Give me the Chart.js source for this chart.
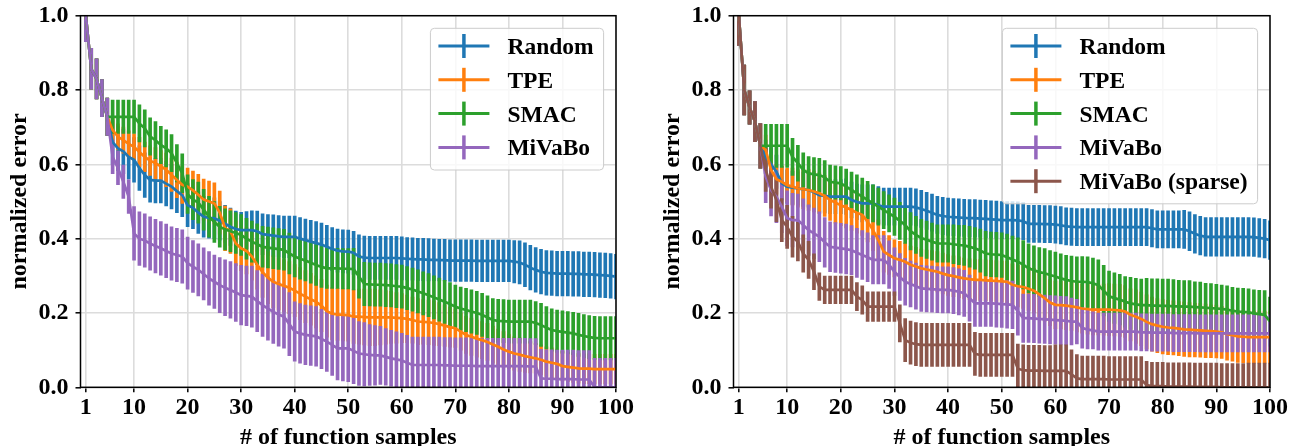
<!DOCTYPE html>
<html>
<head>
<meta charset="utf-8">
<script src="https://cdn.jsdelivr.net/npm/chart.js@4.4.0/dist/chart.umd.min.js"></script>
<style>
html, body { margin: 0; padding: 0; background: #fff; overflow: hidden; }
body { width: 1293px; height: 446px; position: relative; }
.panel { position: absolute; top: 0; width: 640px; height: 460px; }
</style>
</head>
<body>
<div class="panel" style="left:0px"><canvas id="graph1" width="640" height="460"></canvas></div>
<div class="panel" style="left:653px"><canvas id="graph2" width="640" height="460"></canvas></div>
<script>
// x positions = number of function samples
var samples = Array.from({length: 100}, (_, i) => i + 1);
var xTicks = [1, 10, 20, 30, 40, 50, 60, 70, 80, 90, 100];
var yTicks = [0, 0.2, 0.4, 0.6, 0.8, 1.0];

// ---- left panel ---- (first 5 samples are shared by all methods)
var leftHeadMean = [1.0, 0.857, 0.83, 0.778, 0.728];
var leftHeadErr = [0.07, 0.055, 0.054, 0.05, 0.05];

var leftRandomMean = leftHeadMean.concat([
  .66, .643, .635, .62, .612, .59, .571, .558, .556, .556,
  .548, .54, .528, .517, .49, .483, .47, .459, .456, .455,
  .448, .44, .432, .426, .423, .423, .423, .42, .412, .41,
  .408, .406, .405, .405, .405, .4, .396, .392, .388, .384,
  .378, .372, .368, .366, .365, .362, .352, .349, .348, .348,
  .348, .348, .348, .348, .347, .346, .345, .344, .344, .343,
  .343, .342, .342, .341, .341, .341, .341, .341, .34, .34,
  .34, .34, .34, .34, .34, .338, .336, .33, .322, .316,
  .311, .308, .307, .306, .306, .306, .305, .305, .304, .304,
  .303, .302, .301, .3, .298]);
var leftRandomErr = leftHeadErr.concat([
  .06, .06, .06, .06, .06, .06, .06, .06, .06, .06,
  .06, .06, .058, .058, .058, .056, .056, .055, .055, .055,
  .052, .05, .05, .048, .048, .05, .052, .054, .055, .055,
  .056, .056, .056, .056, .056, .057, .057, .057, .058, .058,
  .058, .058, .058, .058, .058, .058, .058, .058, .058, .058,
  .058, .058, .058, .058, .058, .057, .057, .057, .057, .057,
  .056, .056, .056, .056, .056, .056, .056, .056, .056, .056,
  .056, .056, .056, .056, .056, .057, .058, .059, .06, .06,
  .06, .06, .06, .06, .06, .06, .06, .06, .06, .06,
  .06, .06, .06, .06, .06]);

var leftTpeMean = leftHeadMean.concat([
  .692, .674, .665, .655, .647, .633, .62, .61, .603, .595,
  .585, .572, .558, .545, .54, .53, .518, .505, .5, .495,
  .47, .428, .42, .387, .374, .367, .352, .33, .31, .295,
  .284, .278, .273, .268, .26, .252, .244, .237, .23, .22,
  .205, .198, .196, .195, .194, .19, .19, .189, .188, .188,
  .188, .188, .188, .187, .186, .184, .181, .177, .176, .175,
  .173, .17, .166, .162, .159, .15, .141, .136, .131, .127,
  .122, .115, .109, .102, .096, .091, .088, .084, .081, .078,
  .074, .069, .066, .063, .057, .055, .053, .051, .05, .05,
  .049, .049, .049, .049, .049]);
var leftTpeErr = leftHeadErr.concat([
  .035, .035, .035, .035, .035, .04, .04, .04, .042, .042,
  .045, .045, .048, .05, .05, .052, .055, .055, .055, .055,
  .058, .06, .06, .06, .06, .062, .064, .066, .068, .07,
  .07, .07, .07, .07, .07, .07, .07, .07, .07, .07,
  .07, .07, .07, .07, .07, .072, .074, .075, .076, .076,
  .074, .072, .07, .068, .066, .064, .062, .062, .06, .06,
  .06, .058, .056, .054, .052, .05, .05, .05, .05, .05,
  .05, .05, .048, .048, .046, .045, .045, .044, .042, .04,
  .04, .04, .04, .04, .04, .04, .04, .04, .04, .04,
  .04, .04, .04, .04, .04]);

var leftSmacMean = leftHeadMean.concat([
  .728, .728, .728, .728, .728, .71, .697, .675, .665, .652,
  .643, .63, .603, .576, .52, .505, .497, .478, .459, .445,
  .432, .425, .42, .415, .41, .4, .392, .385, .378, .376,
  .374, .372, .37, .36, .352, .346, .341, .335, .329, .324,
  .32, .32, .32, .319, .319, .318, .298, .278, .277, .276,
  .276, .275, .274, .272, .271, .267, .263, .258, .253, .248,
  .242, .236, .23, .224, .217, .212, .208, .204, .2, .195,
  .188, .181, .179, .178, .177, .177, .177, .177, .177, .173,
  .168, .16, .154, .151, .149, .147, .145, .141, .138, .135,
  .133, .132, .132, .132, .132]);
var leftSmacErr = leftHeadErr.concat([
  .045, .045, .045, .045, .045, .05, .05, .05, .05, .05,
  .05, .05, .05, .052, .052, .054, .055, .055, .055, .055,
  .055, .055, .055, .055, .055, .055, .055, .055, .055, .055,
  .055, .055, .055, .055, .055, .055, .055, .055, .055, .055,
  .054, .054, .054, .054, .054, .056, .058, .058, .058, .058,
  .058, .058, .058, .058, .058, .058, .058, .058, .058, .058,
  .058, .058, .058, .058, .058, .058, .058, .058, .058, .058,
  .058, .058, .058, .058, .058, .058, .058, .058, .058, .058,
  .058, .057, .057, .057, .057, .057, .057, .058, .058, .058,
  .058, .058, .058, .058, .058]);

var leftMivaboMean = leftHeadMean.concat([
  .62, .59, .553, .513, .414, .4, .395, .387, .38, .374,
  .367, .36, .356, .352, .334, .325, .316, .305, .293, .284,
  .275, .268, .262, .255, .248, .246, .244, .232, .221, .212,
  .203, .196, .19, .17, .15, .145, .141, .139, .137, .13,
  .123, .114, .105, .105, .105, .098, .091, .089, .087, .086,
  .086, .082, .078, .075, .072, .066, .06, .06, .06, .06,
  .06, .06, .059, .059, .058, .058, .058, .058, .057, .057,
  .057, .057, .057, .057, .057, .057, .057, .057, .056, .056,
  .024, .023, .023, .022, .022, .022, .022, .021, .021, .021,
  0, 0, 0, 0, 0]);
var leftMivaboErr = leftHeadErr.concat([
  .045, .045, .045, .045, .072, .072, .072, .072, .072, .072,
  .072, .072, .072, .072, .07, .07, .07, .07, .072, .072,
  .074, .075, .076, .078, .08, .08, .082, .082, .084, .085,
  .085, .085, .085, .085, .08, .08, .08, .08, .08, .08,
  .08, .082, .085, .088, .09, .088, .086, .085, .082, .08,
  .078, .076, .075, .074, .073, .074, .075, .075, .075, .075,
  .075, .075, .075, .075, .075, .075, .075, .075, .075, .075,
  .075, .075, .075, .075, .075, .075, .075, .075, .075, .075,
  .078, .078, .078, .078, .078, .078, .078, .078, .078, .078,
  .078, .078, .078, .078, .078]);

// ---- right panel ----
var rightHeadMean = [1.0, 0.80, 0.753, 0.715, 0.65];
var rightHeadErr = [0.08, 0.067, 0.045, 0.054, 0.06];

var rightRandomMean = rightHeadMean.concat([
  .62, .6, .58, .549, .54, .537, .535, .533, .531, .525,
  .517, .515, .513, .513, .513, .513, .504, .499, .495, .495,
  .495, .49, .486, .486, .486, .486, .486, .486, .484, .48,
  .475, .47, .464, .461, .459, .458, .457, .456, .455, .455,
  .454, .453, .452, .451, .45, .45, .45, .449, .447, .44,
  .44, .44, .439, .439, .438, .436, .433, .432, .431, .431,
  .431, .431, .431, .431, .431, .431, .431, .431, .431, .431,
  .431, .431, .428, .425, .425, .425, .425, .425, .425, .42,
  .413, .408, .405, .405, .405, .405, .405, .405, .405, .405,
  .405, .404, .402, .4, .396]);
var rightRandomErr = rightHeadErr.concat([
  .045, .045, .045, .045, .045, .045, .045, .046, .046, .046,
  .046, .046, .046, .046, .046, .048, .048, .048, .05, .05,
  .05, .05, .05, .05, .05, .05, .05, .05, .05, .05,
  .05, .05, .05, .05, .05, .05, .05, .05, .05, .05,
  .05, .05, .05, .05, .05, .05, .05, .05, .05, .05,
  .05, .05, .05, .05, .05, .05, .05, .05, .05, .05,
  .05, .05, .05, .05, .05, .05, .05, .05, .05, .05,
  .05, .05, .05, .05, .05, .05, .05, .05, .051, .052,
  .052, .052, .052, .052, .052, .052, .052, .052, .052, .052,
  .052, .052, .052, .052, .052]);

var rightTpeMean = rightHeadMean.concat([
  .639, .585, .56, .553, .544, .54, .535, .533, .531, .527,
  .522, .515, .504, .497, .49, .484, .477, .47, .464, .446,
  .423, .396, .365, .356, .347, .343, .338, .33, .325, .32,
  .317, .314, .311, .306, .302, .299, .296, .293, .291, .289,
  .289, .288, .287, .286, .285, .284, .276, .272, .27, .265,
  .26, .25, .24, .228, .222, .221, .22, .218, .215, .212,
  .21, .209, .209, .209, .209, .208, .207, .204, .195, .19,
  .184, .176, .17, .166, .163, .161, .16, .158, .156, .155,
  .154, .153, .152, .151, .15, .148, .143, .14, .137, .136,
  .135, .135, .135, .135, .135]);
var rightTpeErr = rightHeadErr.concat([
  .04, .04, .04, .042, .045, .05, .05, .052, .055, .055,
  .055, .055, .055, .055, .055, .055, .055, .055, .055, .055,
  .055, .055, .055, .052, .05, .05, .05, .05, .052, .052,
  .052, .054, .054, .055, .055, .055, .055, .055, .055, .055,
  .055, .055, .055, .055, .055, .056, .056, .056, .058, .058,
  .06, .06, .062, .062, .064, .064, .065, .065, .066, .066,
  .067, .068, .068, .069, .07, .07, .07, .07, .07, .072,
  .072, .073, .073, .073, .073, .073, .073, .073, .073, .073,
  .072, .072, .072, .071, .071, .07, .07, .07, .07, .07,
  .07, .07, .07, .07, .07]);

var rightSmacMean = rightHeadMean.concat([
  .65, .65, .65, .65, .65, .62, .603, .585, .576, .573,
  .571, .565, .553, .551, .549, .54, .531, .522, .513, .504,
  .495, .486, .477, .468, .459, .448, .437, .42, .41, .402,
  .397, .392, .387, .387, .387, .385, .383, .382, .378, .374,
  .368, .36, .358, .357, .356, .35, .344, .338, .33, .32,
  .315, .31, .307, .302, .298, .293, .289, .286, .284, .284,
  .283, .28, .275, .26, .245, .24, .236, .23, .226, .223,
  .221, .221, .22, .22, .219, .219, .218, .218, .217, .217,
  .216, .215, .214, .213, .212, .211, .209, .206, .204, .203,
  .202, .199, .197, .195, .177]);
var rightSmacErr = rightHeadErr.concat([
  .058, .058, .058, .058, .058, .05, .048, .046, .045, .045,
  .045, .045, .045, .045, .045, .047, .048, .05, .05, .05,
  .05, .05, .05, .05, .05, .05, .05, .05, .05, .05,
  .05, .05, .05, .05, .05, .052, .053, .054, .055, .056,
  .058, .06, .06, .06, .06, .062, .063, .064, .065, .066,
  .066, .066, .066, .066, .066, .066, .066, .067, .067, .068,
  .068, .068, .068, .068, .068, .068, .068, .068, .07, .07,
  .07, .072, .072, .072, .072, .072, .072, .07, .07, .07,
  .068, .068, .066, .066, .065, .064, .064, .063, .063, .063,
  .063, .063, .064, .065, .066]);

var rightMivaboMean = rightHeadMean.concat([
  .567, .531, .513, .486, .455, .45, .45, .437, .423, .414,
  .405, .39, .378, .376, .374, .372, .369, .362, .356, .35,
  .343, .343, .343, .33, .311, .297, .284, .278, .272, .266,
  .265, .264, .263, .262, .262, .26, .257, .253, .24, .226,
  .226, .226, .226, .225, .224, .223, .222, .205, .186, .186,
  .185, .184, .183, .182, .181, .18, .179, .177, .177, .16,
  .155, .153, .15, .15, .15, .15, .15, .15, .15, .15,
  .148, .148, .147, .147, .147, .147, .146, .146, .146, .146,
  .146, .145, .145, .145, .145, .145, .145, .145, .145, .145,
  .145, .145, .145, .145, .145]);
var rightMivaboErr = rightHeadErr.concat([
  .07, .07, .07, .07, .074, .072, .07, .07, .068, .068,
  .067, .067, .067, .067, .067, .067, .066, .066, .066, .066,
  .065, .065, .065, .064, .064, .063, .063, .062, .062, .062,
  .062, .062, .062, .062, .062, .062, .062, .062, .062, .062,
  .062, .062, .062, .063, .063, .064, .064, .065, .065, .065,
  .065, .065, .065, .065, .065, .065, .065, .063, .06, .055,
  .052, .05, .05, .05, .05, .05, .05, .05, .05, .05,
  .05, .05, .05, .05, .05, .05, .05, .05, .05, .05,
  .05, .05, .05, .05, .05, .05, .05, .05, .05, .05,
  .05, .05, .05, .05, .05]);

var rightSparseMean = rightHeadMean.concat([
  .585, .54, .504, .45, .432, .405, .392, .36, .343, .311,
  .271, .262, .262, .262, .262, .262, .262, .244, .235, .217,
  .217, .217, .217, .217, .217, .172, .127, .12, .116, .114,
  .114, .114, .114, .114, .114, .114, .114, .114, .114, .09,
  .087, .087, .087, .087, .087, .087, .087, .05, .046, .045,
  .045, .045, .044, .044, .044, .044, .044, .035, .024, .022,
  .022, .022, .022, .022, .021, .021, .021, .021, .021, .021,
  .021, .006, .003, .003, .003, .002, .002, .002, .002, .002,
  .001, .001, .001, .001, .001, 0, 0, 0, 0, 0,
  0, 0, 0, 0, 0]);
var rightSparseErr = rightHeadErr.concat([
  .058, .058, .058, .058, .058, .055, .052, .05, .05, .048,
  .037, .037, .037, .037, .037, .037, .037, .038, .038, .04,
  .04, .04, .04, .04, .04, .05, .058, .058, .058, .058,
  .058, .058, .058, .058, .058, .058, .058, .058, .058, .058,
  .058, .058, .058, .058, .058, .058, .058, .066, .068, .068,
  .068, .068, .068, .068, .07, .07, .07, .066, .064, .062,
  .062, .062, .062, .062, .062, .062, .062, .062, .062, .062,
  .062, .064, .064, .064, .064, .064, .064, .064, .064, .064,
  .064, .064, .064, .064, .064, .064, .064, .064, .064, .064,
  .065, .065, .065, .065, .065]);

var colors = {
  random: '#1f77b4', tpe: '#ff7f0e', smac: '#2ca02c', mivabo: '#9467bd', sparse: '#8c564b'
};

Chart.defaults.font.family = '"Liberation Serif", "Times New Roman", serif';
Chart.defaults.font.weight = 'bold';
Chart.defaults.color = '#000';

var leftSeries = [
  {name: 'Random', color: colors.random, mean: leftRandomMean, err: leftRandomErr},
  {name: 'TPE', color: colors.tpe, mean: leftTpeMean, err: leftTpeErr},
  {name: 'SMAC', color: colors.smac, mean: leftSmacMean, err: leftSmacErr},
  {name: 'MiVaBo', color: colors.mivabo, mean: leftMivaboMean, err: leftMivaboErr}
];
var rightSeries = [
  {name: 'Random', color: colors.random, mean: rightRandomMean, err: rightRandomErr},
  {name: 'TPE', color: colors.tpe, mean: rightTpeMean, err: rightTpeErr},
  {name: 'SMAC', color: colors.smac, mean: rightSmacMean, err: rightSmacErr},
  {name: 'MiVaBo', color: colors.mivabo, mean: rightMivaboMean, err: rightMivaboErr},
  {name: 'MiVaBo (sparse)', color: colors.sparse, mean: rightSparseMean, err: rightSparseErr}
];

// error bars are floating bars, means are lines; all bars sit below all lines
function buildDatasets(series) {
  var sets = [];
  series.forEach(function (s, k) {
    sets.push({
      type: 'bar',
      label: s.name + ' std',
      data: samples.map((x, i) => ({x: x, y: [s.mean[i] - s.err[i], s.mean[i] + s.err[i]]})),
      backgroundColor: s.color,
      barThickness: 3,
      grouped: false,
      order: 20 - k
    });
    sets.push({
      type: 'line',
      label: s.name,
      data: samples.map((x, i) => ({x: x, y: s.mean[i]})),
      borderColor: s.color,
      borderWidth: 2.7,
      pointRadius: 0,
      tension: 0,
      order: 10 - k
    });
  });
  return sets;
}

// black box round the plot area
var framePlugin = {
  id: 'frame',
  afterDatasetsDraw(chart) {
    var ctx = chart.ctx, a = chart.chartArea;
    ctx.save();
    ctx.strokeStyle = '#000';
    ctx.lineWidth = 1.5;
    ctx.strokeRect(a.left, a.top, a.right - a.left, a.bottom - a.top);
    ctx.restore();
  }
};

// matplotlib-like legend with errorbar glyphs
var errLegendPlugin = {
  id: 'errLegend',
  afterDraw(chart, args, opts) {
    var ctx = chart.ctx, a = chart.chartArea;
    var items = opts.items;
    ctx.save();
    ctx.font = 'bold 23.5px "Liberation Serif", "Times New Roman", serif';
    var textW = Math.max.apply(null, items.map(it => ctx.measureText(it.name).width));
    var rowH = 33.8;
    var w = 8 + 51 + 18 + textW + 10;
    var h = items.length * rowH + 6.5;
    var x0 = a.right - 12.4 - w, y0 = a.top + 12.6;
    ctx.beginPath();
    ctx.roundRect(x0, y0, w, h, 4);
    ctx.fillStyle = 'rgba(255,255,255,0.8)';
    ctx.fill();
    ctx.strokeStyle = '#cccccc';
    ctx.lineWidth = 1;
    ctx.stroke();
    items.forEach(function (it, i) {
      var cy = y0 + 17.7 + i * rowH;
      ctx.strokeStyle = it.color;
      ctx.lineWidth = 3;
      ctx.beginPath();
      ctx.moveTo(x0 + 8, cy);
      ctx.lineTo(x0 + 59, cy);
      ctx.stroke();
      ctx.lineWidth = 3.5;
      ctx.beginPath();
      ctx.moveTo(x0 + 33.5, cy - 12);
      ctx.lineTo(x0 + 33.5, cy + 12);
      ctx.stroke();
      ctx.fillStyle = '#000';
      ctx.textBaseline = 'alphabetic';
      ctx.textAlign = 'left';
      ctx.fillText(it.name, x0 + 77, cy + 8);
    });
    ctx.restore();
  }
};

function makeConfig(series, padRight) {
  return {
    type: 'line',
    data: {datasets: buildDatasets(series)},
    options: {
      responsive: false,
      animation: false,
      layout: {padding: {left: 0, right: padRight, top: 15.7, bottom: 0}},
      plugins: {
        legend: {display: false},
        tooltip: {enabled: false},
        errLegend: {items: series.map(s => ({name: s.name, color: s.color}))}
      },
      scales: {
        x: {
          type: 'linear',
          min: 0,
          max: 100,
          offset: false,
          afterBuildTicks: function (scale) { scale.ticks = xTicks.map(v => ({value: v})); },
          afterFit: function (scale) {
            scale.height = 460 - 387.3;
            scale.paddingLeft = 0;
            scale.paddingRight = 0;
          },
          ticks: {
            font: {size: 24, weight: 'bold'},
            color: '#000',
            padding: 1,
            maxRotation: 0,
            autoSkip: false,
            callback: v => String(v)
          },
          grid: {offset: false, color: '#dcdcdc', lineWidth: 1.6, tickColor: '#000', tickLength: 5, tickWidth: 1.5},
          border: {display: false},
          title: {
            display: true,
            text: '# of function samples',
            font: {size: 24, weight: 'bold'},
            color: '#000',
            padding: {top: 0, bottom: 7.6}
          }
        },
        y: {
          min: 0,
          max: 1,
          afterBuildTicks: function (scale) { scale.ticks = yTicks.map(v => ({value: v})); },
          afterFit: function (scale) {
            scale.width = 80.5;
            scale.paddingTop = 0;
            scale.paddingBottom = 0;
          },
          ticks: {
            font: {size: 24, weight: 'bold'},
            color: '#000',
            padding: 7,
            callback: v => v.toFixed(1)
          },
          grid: {color: '#dcdcdc', lineWidth: 1.6, tickColor: '#000', tickLength: 5, tickWidth: 1.5},
          border: {display: false},
          title: {
            display: true,
            text: 'normalized error',
            font: {size: 24, weight: 'bold'},
            color: '#000',
            padding: {top: 5.6, bottom: 0}
          }
        }
      }
    },
    plugins: [framePlugin, errLegendPlugin]
  };
}

var graph1 = new Chart(document.getElementById('graph1').getContext('2d'), makeConfig(leftSeries, 24));
var graph2 = new Chart(document.getElementById('graph2').getContext('2d'), makeConfig(rightSeries, 23));
</script>
</body>
</html>
